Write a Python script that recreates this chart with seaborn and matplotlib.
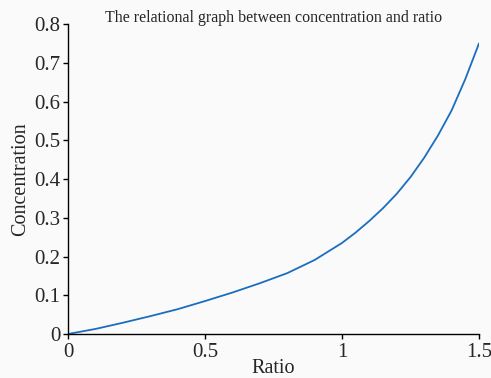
import numpy as np
import pandas as pd
import matplotlib
matplotlib.use("Agg")
import matplotlib.pyplot as plt
import seaborn as sns

# values
ratio = [0.0, 0.1, 0.2, 0.3, 0.4, 0.5, 0.6, 0.7, 0.8, 0.9, 1.0, 1.05, 1.1, 1.15, 1.2,
         1.25, 1.3, 1.35, 1.4, 1.45, 1.5]
concentration = [0.0, 0.013, 0.029, 0.046, 0.064, 0.085, 0.107, 0.131, 0.157, 0.191, 0.235,
                 0.262, 0.292, 0.325, 0.362, 0.405, 0.455, 0.512, 0.577, 0.658, 0.750]
xticks = [0, 0.5, 1, 1.5]
xticklabels = ["0", "0.5", "1", "1.5"]
yticks = [0, 0.1, 0.2, 0.3, 0.4, 0.5, 0.6, 0.7, 0.8]
yticklabels = ["0", "0.1", "0.2", "0.3", "0.4", "0.5", "0.6", "0.7", "0.8"]

df = pd.DataFrame({"Ratio": ratio, "Concentration": concentration})

sns.set_style("ticks")
plt.rcParams['font.family'] = ['Liberation Serif', 'DejaVu Serif']

fig = plt.figure(figsize=(4.91, 3.78), dpi=100)
fig.patch.set_facecolor("#fafafa")
ax = fig.add_axes([0.1385, 0.1164, 0.8371, 0.8201])
ax.set_facecolor("#fafafa")

sns.lineplot(data=df, x="Ratio", y="Concentration", ax=ax, color="#1b6dbf", linewidth=1.3)

ax.set_xlim(0, 1.5)
ax.set_ylim(0, 0.8)
ax.set_xticks(xticks)
ax.set_xticklabels(xticklabels)
ax.set_yticks(yticks)
ax.set_yticklabels(yticklabels)
ax.tick_params(axis="both", labelsize=15, length=3.5, width=1, color="black", pad=2)
ax.tick_params(axis="x", pad=3)
for s in ["top", "right"]:
    ax.spines[s].set_visible(False)
for s in ["left", "bottom"]:
    ax.spines[s].set_color("black")
    ax.spines[s].set_linewidth(1)

ax.set_xlabel("Ratio", fontsize=14.5, labelpad=-2.5)
ax.set_ylabel("Concentration", fontsize=14.5, labelpad=3)
ax.text(0.5, 1.02, "The relational graph between concentration and ratio",
        transform=ax.transAxes, ha="center", va="center", fontsize=11.5)

fig.savefig("out.png", dpi=100, facecolor=fig.get_facecolor())
